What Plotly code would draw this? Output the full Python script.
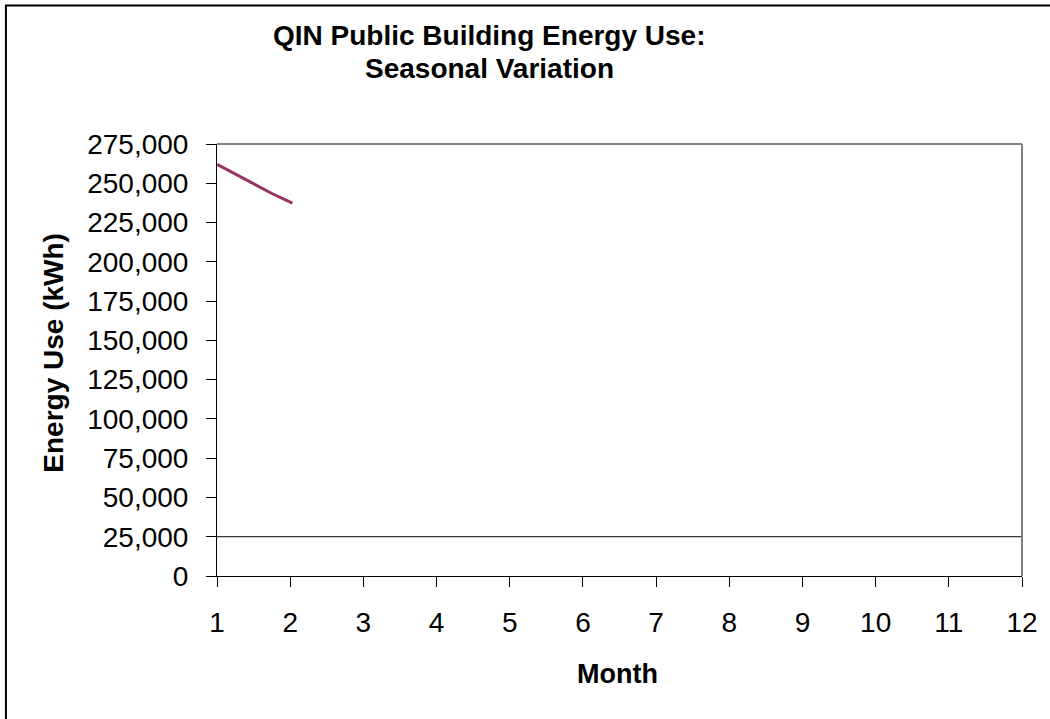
import plotly.graph_objects as go

# monthly energy use (only the first stretch of the year is plotted)
month = [1, 1.75, 2.03]
energy_kwh = [262000, 243500, 237300]

# flat reference line
ref_month = [1, 12]
ref_kwh = [25000, 25000]

y_ticks = list(range(0, 275001, 25000))
x_ticks = list(range(1, 13))

FONT = "Arial, Liberation Sans, sans-serif"

fig = go.Figure()
fig.add_trace(go.Scatter(x=ref_month, y=ref_kwh, mode="lines",
                         line=dict(color="black", width=1), showlegend=False))
fig.add_trace(go.Scatter(x=month, y=energy_kwh, mode="lines",
                         line=dict(color="#993366", width=3), showlegend=False))

ann = dict(xref="paper", yref="paper", showarrow=False,
           xanchor="center", yanchor="middle")

fig.update_layout(
    width=1050, height=719,
    margin=dict(l=217, r=26, t=144, b=143),
    paper_bgcolor="white", plot_bgcolor="white",
    font=dict(family=FONT, size=28, color="black"),
    annotations=[
        dict(text="<b>QIN Public Building Energy Use:</b>", x=0.338, y=1.2523,
             font_size=28, **ann),
        dict(text="<b>Seasonal Variation</b>", x=0.338, y=1.1759,
             font_size=28, **ann),
        dict(text="<b>Month</b>", x=0.498, y=-0.227, font_size=27, **ann),
        dict(text="<b>Energy Use (kWh)</b>", x=-0.203, y=0.516, font_size=28,
             textangle=-90, **ann),
    ],
    shapes=[
        # grey top/right edges of plot area
        dict(type="line", xref="paper", yref="paper", x0=0, x1=1, y0=1, y1=1,
             line=dict(color="#808080", width=2)),
        dict(type="line", xref="paper", yref="paper", x0=1, x1=1, y0=0, y1=1,
             line=dict(color="#808080", width=2)),
        # outer chart frame (cropped on right/bottom)
        dict(type="rect", xref="paper", yref="paper", x0=-0.2622, x1=1.2, y0=-0.5, y1=1.3206,
             line=dict(color="black", width=2), layer="below"),
    ],
)

fig.update_xaxes(range=[1, 12], tickvals=x_ticks, showgrid=False, zeroline=False,
                 showline=True, linecolor="black", linewidth=1,
                 ticks="outside", ticklen=10, tickcolor="black",
                 ticklabelstandoff=11)
fig.update_yaxes(range=[0, 275000], tickvals=y_ticks, tickformat=",",
                 showgrid=False, zeroline=False,
                 showline=True, linecolor="black", linewidth=1,
                 ticks="outside", ticklen=10, tickcolor="black",
                 ticklabelstandoff=12)

# drop the default page margin so the figure sits at the window's corner
fig.write_html("out.html", config={"displayModeBar": False},
               post_script="document.body.style.margin='0';")
